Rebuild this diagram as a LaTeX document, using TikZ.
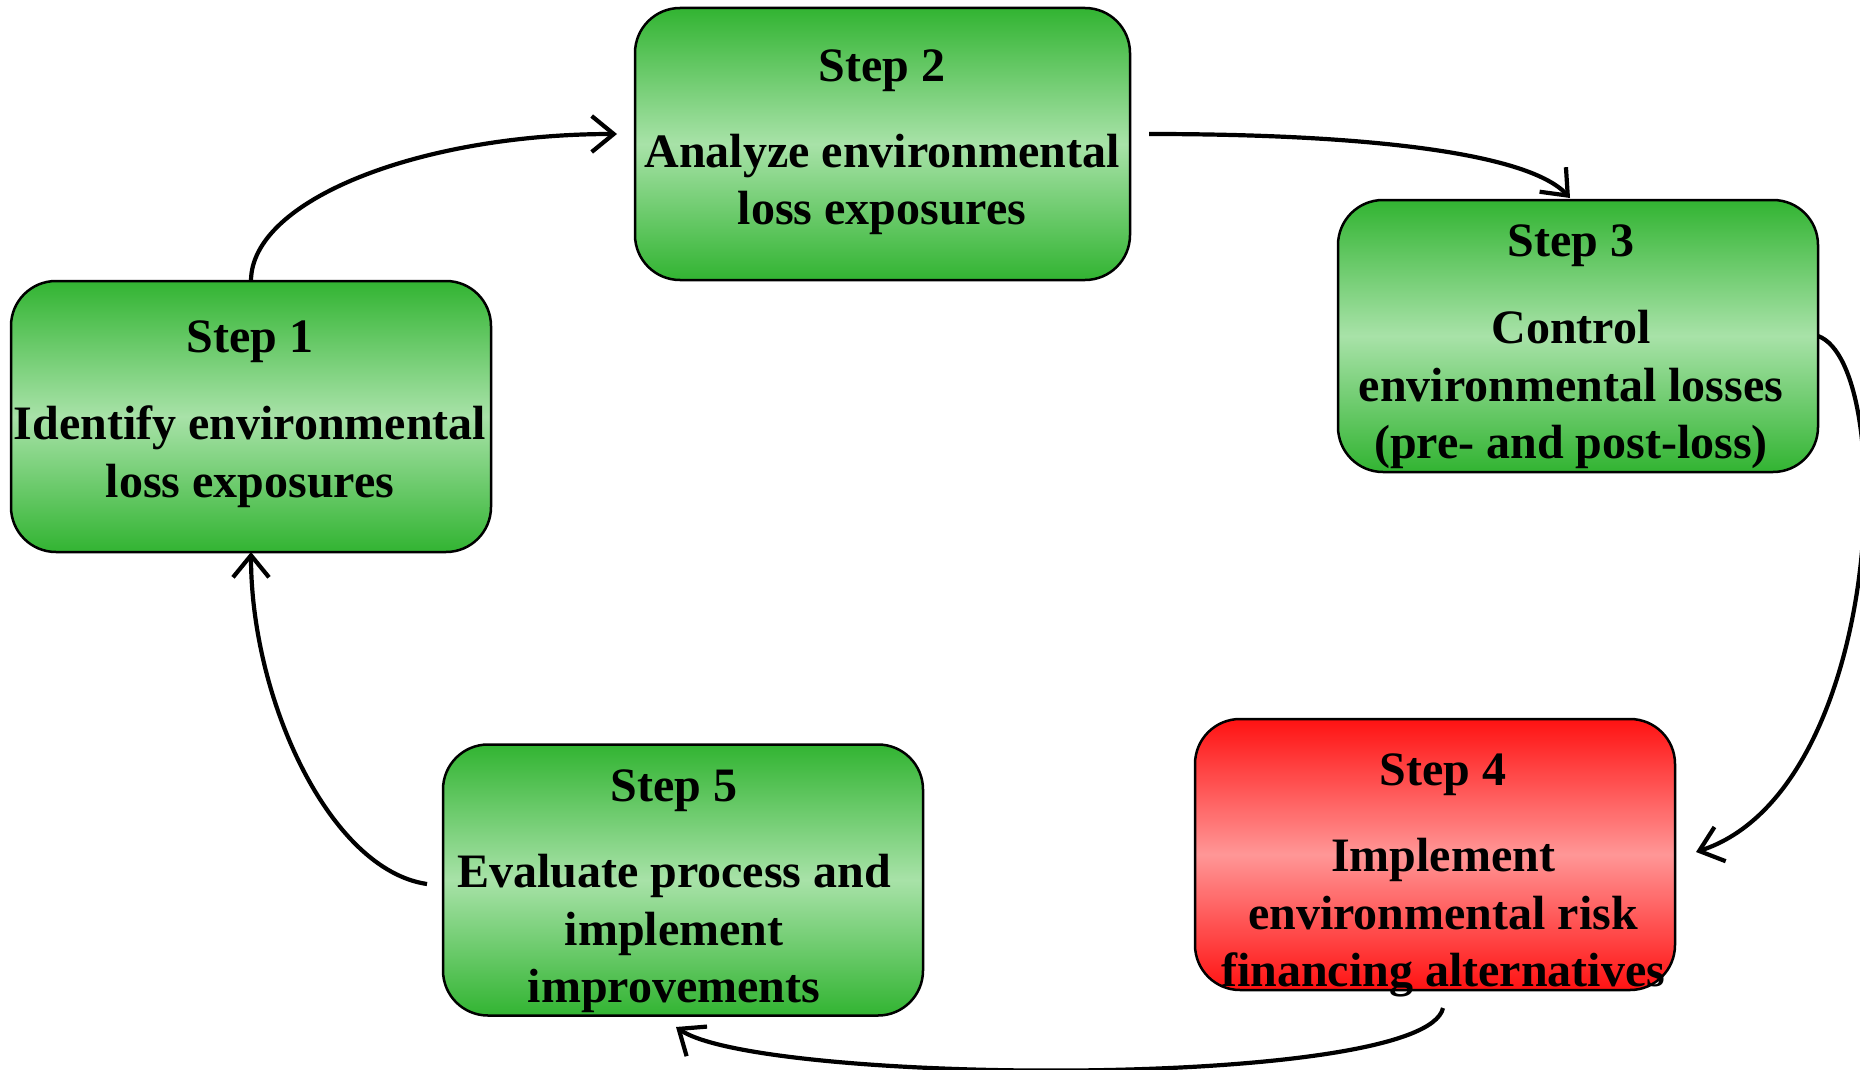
\documentclass[tikz,border=0pt]{standalone}
\usepackage{fontspec}
\setmainfont{Liberation Serif}
\usetikzlibrary{arrows.meta}
\definecolor{gdark}{RGB}{50,180,50}
\definecolor{glight}{RGB}{168,226,168}
\definecolor{rdark}{RGB}{255,18,18}
\definecolor{rlight}{RGB}{255,150,150}
\begin{document}
\begin{tikzpicture}[x=1pt,y=-1pt,
  box/.style={draw=black, line width=2.5pt, rounded corners=45pt, minimum width=480pt, minimum height=271pt, inner sep=0pt, outer sep=0pt},
  gbox/.style={box, top color=gdark, bottom color=gdark, middle color=glight},
  rbox/.style={box, top color=rdark, bottom color=rdark, middle color=rlight},
  txt/.style={anchor=base, font=\fontsize{48}{57}\selectfont\bfseries, inner sep=0pt, text=black},
  arr/.style={draw=black, line width=4.2pt, -{Straight Barb[length=22pt,width=36pt,line width=4.2pt]}}
]
\useasboundingbox[fill=white] (0,0) rectangle (1860,1070);

% boxes
\node[gbox] (s1) at (251,416.5) {};
\node[gbox, minimum width=495pt, minimum height=272pt] (s2) at (882.5,144) {};
\node[gbox, minimum height=272pt] (s3) at (1578,336) {};
\node[rbox] (s4) at (1435,854.5) {};
\node[gbox] (s5) at (683,880) {};

% texts
\node[txt] (t1a) at (250,352) {Step 1};
\node[txt] (t1b) at (250,439) {Identify environmental};
\node[txt] (t1c) at (250,497) {loss exposures};

\node[txt] (t2a) at (882,82) {Step 2};
\node[txt] (t2b) at (882,167) {Analyze environmental};
\node[txt] (t2c) at (882,224) {loss exposures};

\node[txt] (t3a) at (1571,256) {Step 3};
\node[txt] (t3b) at (1571,343) {Control};
\node[txt] (t3c) at (1571,401) {environmental losses};
\node[txt] (t3d) at (1571,458) {(pre- and post-loss)};

\node[txt] (t4a) at (1443,785) {Step 4};
\node[txt] (t4b) at (1443,871) {Implement};
\node[txt] (t4c) at (1443,929) {environmental risk};
\node[txt] (t4d) at (1443,986) {financing alternatives};

\node[txt] (t5a) at (674,801) {Step 5};
\node[txt] (t5b) at (674,887) {Evaluate process and};
\node[txt] (t5c) at (674,945) {implement};
\node[txt] (t5d) at (674,1002) {improvements};

% connector end points
\coordinate (a1e) at (617,134);
\coordinate (a2s) at (1149,134);
\coordinate (a2e) at (1570,198);
\coordinate (a3e) at (1696,852);
\coordinate (a4s) at (1443,1008);
\coordinate (a4e) at (676,1027);
\coordinate (a5s) at (427,884);

% connectors
\draw[arr] (s1.north) .. controls (251,200) and (420,134) .. (a1e);
\draw[arr] (a2s) .. controls (1380,134) and (1530,155) .. (a2e);
\draw[arr] (s3.east) .. controls (1898,365) and (1885,790) .. (a3e);
\draw[arr] (a4s) .. controls (1425,1090) and (760,1085) .. (a4e);
\draw[arr] (a5s) .. controls (330,870) and (251,700) .. (s1.south);
\end{tikzpicture}
\end{document}
